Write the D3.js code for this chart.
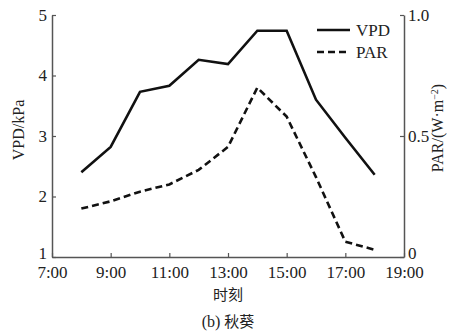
<!DOCTYPE html>
<html>
<head>
<meta charset="utf-8">
<script src="https://cdn.jsdelivr.net/npm/d3@7"></script>
<style>
  body { margin: 0; background: #fff; }
  text { font-family: "Liberation Serif", "Times New Roman", serif; fill: #222; }
  .cjk { font-family: "Noto Sans CJK SC", sans-serif; }
</style>
</head>
<body>
<div id="chart"></div>
<script>
const hours = [8, 9, 10, 11, 12, 13, 14, 15, 16, 17, 18];
const vpd = [2.40, 2.82, 3.73, 3.83, 4.26, 4.19, 4.74, 4.74, 3.60, 2.97, 2.36];
const par = [0.20, 0.23, 0.27, 0.30, 0.36, 0.455, 0.70, 0.58, 0.33, 0.063, 0.03];
const xTicks = [7, 9, 11, 13, 15, 17, 19];
const yLeftTicks = [1, 2, 3, 4, 5];
const yRightTicks = [0, 0.5, 1.0];

const width = 454, height = 333;
const margin = { top: 15, right: 50, bottom: 76, left: 52 };
const w = width - margin.left - margin.right;
const h = height - margin.top - margin.bottom;

const svg = d3.select("#chart").append("svg")
  .attr("width", width).attr("height", height);
const g = svg.append("g").attr("transform", `translate(${margin.left},${margin.top})`);

const x = d3.scaleLinear().domain([7, 19]).range([0, w]);
const yL = d3.scaleLinear().domain([1, 5]).range([h, 0]);
const yR = d3.scaleLinear().domain([0, 1]).range([h, 0]);

const axisColor = "#555";

// axes, ticks pointing inward
const xAxis = g.append("g").attr("transform", `translate(0,${h})`)
  .call(d3.axisBottom(x).tickValues(xTicks).tickSizeInner(-4).tickSizeOuter(0)
    .tickFormat(d => d + ":00"));
const yAxisL = g.append("g")
  .call(d3.axisLeft(yL).tickValues(yLeftTicks).tickSizeInner(-4).tickSizeOuter(0)
    .tickFormat(d3.format("d")));
const yAxisR = g.append("g").attr("transform", `translate(${w},0)`)
  .call(d3.axisRight(yR).tickValues(yRightTicks).tickSizeInner(-4).tickSizeOuter(0)
    .tickFormat(d => d === 0 ? "0" : d.toFixed(1)));

[xAxis, yAxisL, yAxisR].forEach(a => {
  a.select(".domain").attr("stroke", axisColor).attr("stroke-width", 1.5);
  a.selectAll(".tick line").attr("stroke", axisColor).attr("stroke-width", 1.2);
  a.selectAll("text").attr("font-size", 17).attr("fill", "#222")
    .style("font-family", "'Liberation Serif', serif");
});
xAxis.selectAll("text").attr("dy", "0.95em").attr("y", 5);
yAxisL.selectAll("text").attr("x", -5).attr("dy", "0.3em");
yAxisL.selectAll(".tick").filter(d => d === 1).select("text").attr("dy", "0.1em");
yAxisR.selectAll("text").attr("x", 4).attr("dy", "0.3em");
yAxisR.selectAll(".tick").filter(d => d === 0).select("text").attr("dy", "0.1em");

// series
const lineV = d3.line().x((d, i) => x(hours[i])).y(d => yL(d));
const lineP = d3.line().x((d, i) => x(hours[i])).y(d => yR(d));

g.append("path").datum(vpd).attr("d", lineV)
  .attr("fill", "none").attr("stroke", "#111").attr("stroke-width", 2.6);
g.append("path").datum(par).attr("d", lineP)
  .attr("fill", "none").attr("stroke", "#111").attr("stroke-width", 2.6)
  .attr("stroke-dasharray", "7,4");

// legend
const lg = svg.append("g");
lg.append("line").attr("x1", 317).attr("x2", 350).attr("y1", 30).attr("y2", 30)
  .attr("stroke", "#111").attr("stroke-width", 2.4);
lg.append("text").attr("x", 356).attr("y", 30).attr("dy", "0.35em")
  .attr("font-size", 17).text("VPD");
lg.append("line").attr("x1", 317).attr("x2", 350).attr("y1", 52).attr("y2", 52)
  .attr("stroke", "#111").attr("stroke-width", 2.4).attr("stroke-dasharray", "7,4");
lg.append("text").attr("x", 356).attr("y", 52).attr("dy", "0.35em")
  .attr("font-size", 17).text("PAR");

// axis titles
svg.append("text").attr("transform", "translate(24,130) rotate(-90)")
  .attr("text-anchor", "middle").attr("font-size", 16).text("VPD/kPa");
const rt = svg.append("text").attr("transform", "translate(443,128) rotate(-90)")
  .attr("text-anchor", "middle").attr("font-size", 16);
rt.append("tspan").text("PAR/(W·m");
rt.append("tspan").attr("dy", -5).attr("font-size", 10).text("−2");
rt.append("tspan").attr("dy", 5).text(")");

svg.append("text").attr("class", "cjk").attr("x", 228).attr("y", 295).attr("dy", "0.35em")
  .attr("text-anchor", "middle").attr("font-size", 15).text("时刻");
const cap = svg.append("text").attr("x", 228).attr("y", 321).attr("dy", "0.35em")
  .attr("text-anchor", "middle").attr("font-size", 16);
cap.append("tspan").text("(b) ");
cap.append("tspan").attr("class", "cjk").attr("font-size", 15).text("秋葵");
</script>
</body>
</html>
